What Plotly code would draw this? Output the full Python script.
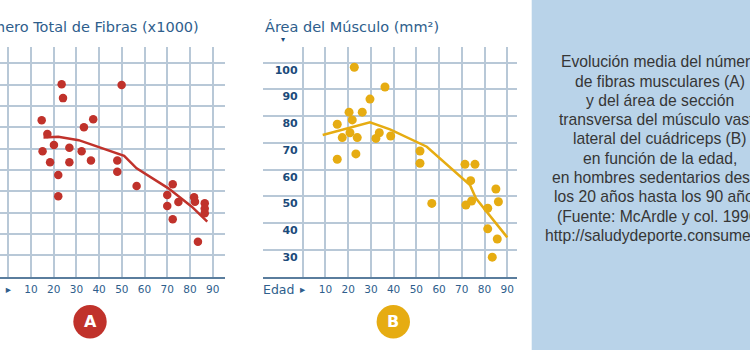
import plotly.graph_objects as go

# ---------------- data ----------------
# Panel A: total fibre number (x1000) vs age
age_a = [23.5, 49.9, 24.1, 14.7, 37.4, 33.3, 17.2, 20.1, 15.1, 26.9, 32.3, 18.4, 26.9, 36.4, 48.0,
         48.0, 22.0, 22.0, 56.5, 72.4, 70.0, 74.9, 70.0, 72.4, 81.8, 82.2, 86.5, 86.5, 86.5, 83.5]
fibras_a = [902, 898, 837, 733, 738, 700, 669, 617, 588, 604, 588, 536, 536, 545, 545,
            492, 477, 377, 425, 433, 383, 350, 331, 269, 372, 351, 344, 320, 297, 164]
line_age_a = [15.5, 22.0, 31.0, 51.0, 56.5, 70.5, 80.8, 87.6]
line_fibras_a = [653, 656, 640, 566, 508, 414, 328, 258]

# Panel B: muscle area (mm2) vs age
age_b = [22.7, 36.2, 29.6, 20.4, 26.2, 21.8, 15.2, 20.8, 17.4, 24.0, 33.7, 32.2, 38.7, 15.2, 23.4,
         51.6, 51.6, 56.8, 71.4, 75.8, 73.9, 71.8, 74.3, 81.4, 85.0, 86.1, 81.4, 85.6, 83.4]
area_b = [98.3, 90.9, 86.4, 81.5, 81.5, 78.6, 77.0, 73.8, 72.0, 72.0, 73.8, 71.7, 72.6, 63.9, 65.9,
          67.0, 62.4, 47.4, 62.0, 62.0, 55.9, 46.8, 48.3, 45.6, 52.8, 48.0, 37.9, 34.1, 27.3]
line_age_b = [8.8, 29.6, 38.4, 54.6, 73.6, 76.2, 90.0]
line_area_b = [73.0, 77.7, 75.1, 68.6, 54.3, 49.3, 34.7]

x_tickvals = [0, 10, 20, 30, 40, 50, 60, 70, 80, 90]
x_ticktext = ["▸", "10", "20", "30", "40", "50", "60", "70", "80", "90"]
ya_tickvals = [100, 200, 300, 400, 500, 600, 700, 800, 900, 1000]
yb_tickvals = [30, 40, 50, 60, 70, 80, 90, 100]

title_a = "Número Total de Fibras (x1000)"
title_b = "Área del Músculo (mm²)"
x_label = "Edad"
caption_lines = [
    "Evolución media del número",
    "de fibras musculares (A)",
    "y del área de sección",
    "transversa del músculo vasto",
    "lateral del cuádriceps (B)",
    "en función de la edad,",
    "en hombres sedentarios desde",
    "los 20 años hasta los 90 años.",
    "(Fuente: McArdle y col. 1996)",
    "http://saludydeporte.consumer.es",
]

RED = "#c0322b"
GOLD = "#e6ac12"
GRID = "#b8c8d7"
AXIS = "#5a7d9d"
NAVY = "#1c4b7a"
BLUE = "#2e5e8c"
W, H = 750, 350

fig = go.Figure()
fig.add_trace(go.Scatter(x=line_age_a, y=line_fibras_a, mode="lines",
                         line=dict(color=RED, width=2.5), xaxis="x", yaxis="y", hoverinfo="skip"))
fig.add_trace(go.Scatter(x=age_a, y=fibras_a, mode="markers",
                         marker=dict(color=RED, size=8.5), xaxis="x", yaxis="y"))
fig.add_trace(go.Scatter(x=line_age_b, y=line_area_b, mode="lines",
                         line=dict(color=GOLD, width=2.5), xaxis="x2", yaxis="y2", hoverinfo="skip"))
fig.add_trace(go.Scatter(x=age_b, y=area_b, mode="markers",
                         marker=dict(color=GOLD, size=9), xaxis="x2", yaxis="y2"))

ydom = [(H - 276.7) / H, (H - 46.7) / H]

common_x = dict(tickmode="array", tickvals=x_tickvals, ticktext=x_ticktext,
                showgrid=True, gridcolor=GRID, gridwidth=1.5, zeroline=False,
                showline=True, linecolor=AXIS, linewidth=2, ticks="", automargin=False,
                tickfont=dict(family="DejaVu Sans", size=10.5, color=BLUE),
                ticklabelstandoff=2)
common_y = dict(tickmode="array", showgrid=True, gridcolor=GRID, gridwidth=1.5,
                zeroline=False, showline=False, ticks="", ticklabelshift=7, automargin=False,
                tickfont=dict(family="DejaVu Sans", size=11, color=NAVY, weight="bold"))

fig.update_layout(
    width=W, height=H, margin=dict(l=0, r=0, t=0, b=0, autoexpand=False),
    paper_bgcolor="white", plot_bgcolor="white", showlegend=False,
    xaxis=dict(domain=[0, 225 / W], range=[-3.65, 95.42], anchor="y", **common_x),
    yaxis=dict(domain=ydom, range=[0, 1078], anchor="x", tickvals=ya_tickvals,
               ticklabelstandoff=-1, **common_y),
    xaxis2=dict(domain=[262.7 / W, 516.7 / W], range=[-17.6, 94.15], anchor="y2", **common_x),
    yaxis2=dict(domain=ydom, range=[20, 105.98], anchor="x2", tickvals=yb_tickvals,
                ticklabelstandoff=-36, **common_y),
)

shapes = [
    dict(type="rect", xref="paper", yref="paper", x0=531.7 / W, x1=1.0, y0=0, y1=1,
         fillcolor="#b9d3e9", line=dict(width=0), layer="below"),
    dict(type="circle", xref="paper", yref="paper", x0=73.3 / W, x1=106.7 / W,
         y0=(H - 338.4) / H, y1=(H - 305.0) / H, fillcolor=RED, line=dict(width=0)),
    dict(type="circle", xref="paper", yref="paper", x0=376.6 / W, x1=410.0 / W,
         y0=(H - 338.4) / H, y1=(H - 305.0) / H, fillcolor=GOLD, line=dict(width=0)),
]

annotations = [
    dict(text=title_a, xref="paper", yref="paper", x=201 / W, y=(H - 27.3) / H,
         xanchor="right", yanchor="middle", showarrow=False,
         font=dict(family="DejaVu Sans", size=14.5, color=BLUE)),
    dict(text=title_b, xref="paper", yref="paper", x=262.7 / W, y=(H - 27.3) / H,
         xanchor="left", yanchor="middle", showarrow=False,
         font=dict(family="DejaVu Sans", size=14.5, color=BLUE)),
    dict(text="▾", xref="paper", yref="paper", x=282.7 / W, y=(H - 39) / H,
         xanchor="center", yanchor="middle", showarrow=False,
         font=dict(family="DejaVu Sans", size=8, color=NAVY)),
    dict(text=x_label, xref="paper", yref="paper", x=296 / W, y=(H - 289.3) / H,
         xanchor="right", yanchor="middle", showarrow=False,
         font=dict(family="DejaVu Sans", size=12.5, color=BLUE)),
    dict(text="<b>A</b>", xref="paper", yref="paper", x=90 / W, y=(H - 321.7) / H,
         xanchor="center", yanchor="middle", showarrow=False,
         font=dict(family="DejaVu Sans", size=16, color="white")),
    dict(text="<b>B</b>", xref="paper", yref="paper", x=393.3 / W, y=(H - 321.7) / H,
         xanchor="center", yanchor="middle", showarrow=False,
         font=dict(family="DejaVu Sans", size=16, color="white")),
]
for i, line in enumerate(caption_lines):
    annotations.append(dict(
        text=line, xref="paper", yref="paper", x=660 / W, y=(H - (61.7 + 19.3 * i)) / H,
        xanchor="center", yanchor="middle", align="center", showarrow=False,
        font=dict(family="Liberation Sans", size=15.7, color="#363636")))
fig.update_layout(shapes=shapes, annotations=annotations)

fig.write_html("out.html")
